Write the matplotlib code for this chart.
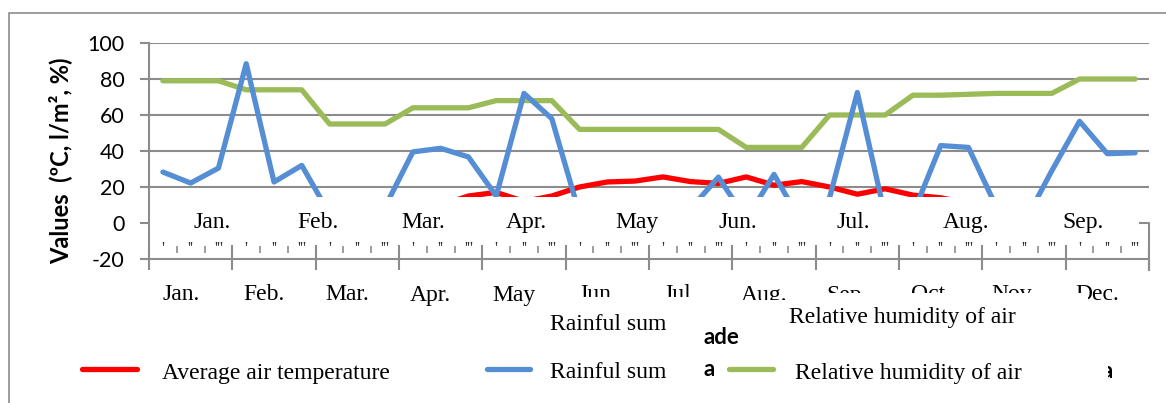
import numpy as np
import matplotlib
matplotlib.use('Agg')
import matplotlib.pyplot as plt
from matplotlib.lines import Line2D
from matplotlib.patches import Rectangle
from matplotlib import transforms

plt.rcParams['axes.unicode_minus'] = False

# values per decade (3 decades per month, Jan..Dec)
temperature = [-3, -4, -2, -1, -2, 0, 2, 4, 5, 8, 10, 15,
               17, 12, 15, 20, 22.8, 23.3, 25.6, 23, 22, 25.6, 21, 23,
               20, 16, 19, 15.5, 14, 11, 9, 7, 5, 3, 1, 0]
rainfall = [28.3, 22.2, 30.5, 88.5, 22.8, 32, 5, 3, 9, 39.5, 41.5, 36.7,
            15, 72, 58, 5, 2, 6, 4, 8, 25.5, 2, 27, 0,
            14, 72.5, 4, 5, 43, 42, 9, 0, 29, 56.5, 38.5, 39]
humidity = [79, 79, 79, 74, 74, 74, 55, 55, 55, 64, 64, 64,
            68, 68, 68, 52, 52, 52, 52, 52, 52, 42, 42, 42,
            60, 60, 60, 71, 71, 71.5, 72, 72, 72, 80, 80, 80]

months = ['Jan.', 'Feb.', 'Mar.', 'Apr.', 'May', 'Jun.', 'Jul.', 'Aug.',
          'Sep.', 'Oct.', 'Nov.', 'Dec.']
upper_months = ['Jan.', 'Feb.', 'Mar.', 'Apr.', 'May', 'Jun.', 'Jul.', 'Aug.', 'Sep.']
upper_month_x = [2.27, 6.08, 9.86, 13.6, 17.57, 21.2, 25.34, 29.41, 33.62]
decade_marks = ["'", "''", "'''"]

W, H = 1166, 403
def fx(x):
    return x / W
def fy(y):
    return 1 - y / H

serif = 'Liberation Serif'
sans = ['Lato', 'DejaVu Sans']
grey = '#8c8c8c'
red, blue, green = '#FF0000', '#558ED5', '#9BBB59'

fig = plt.figure(figsize=(W / 100, H / 100), dpi=100)
ax = fig.add_axes([fx(149), fy(259), 1000 / W, 216 / H])

x = np.arange(len(rainfall)) + 0.5
style = dict(lw=3.8, solid_joinstyle='round', solid_capstyle='round', zorder=2)
ax.plot(x, temperature, color=red, **style)
ax.plot(x, humidity, color=green, **style)
ax.plot(x, rainfall, color=blue, **style)

ax.set_xlim(0, 36)
ax.set_ylim(-20, 100)
ax.set_yticks(range(-20, 101, 20))
ax.yaxis.grid(True, color=grey, lw=1.5)
ax.set_axisbelow(True)
for s in ['top', 'right']:
    ax.spines[s].set_visible(False)
for s in ['left', 'bottom']:
    ax.spines[s].set_color(grey)
    ax.spines[s].set_linewidth(1.5)
ax.tick_params(axis='y', length=6.5, width=1.5, color=grey, pad=11, labelsize=15.5)
for lab in ax.get_yticklabels():
    lab.set_family(sans)
ax.set_xticks(np.arange(0, 37, 3))
ax.set_xticklabels([])
ax.tick_params(axis='x', length=8, width=1.5, color=grey)

# white overlay hiding the lower part of the plot
ax.add_patch(Rectangle((0, -19.4), 36, 33.8, fc='white', ec='none', zorder=2.3))
ax.vlines(np.arange(0, 37, 3), -20, -12.2, color=grey, lw=1.5, zorder=3)
minor = [i for i in range(1, 36) if i % 3]
ax.vlines(minor, -16.7, -12.8, color=grey, lw=1.2, zorder=3)
for i in range(36):
    ax.text(i + 0.5, -14.2, decade_marks[i % 3], ha='center', va='center',
            fontsize=12, family=serif, color='#303030', zorder=4)
for lab, xm in zip(upper_months, upper_month_x):
    ax.text(xm, 0, lab, ha='center', va='center', fontsize=17, family=serif, zorder=4)

# bracket at right end
fig.add_artist(Line2D([fx(1140), fx(1149), fx(1149)], [fy(223), fy(223), fy(270)],
                      color=grey, lw=1.5))

# month labels under the axis
trans = transforms.blended_transform_factory(ax.transData, fig.transFigure)
for m, lab in enumerate(months):
    ax.text(3 * m + 1.14, fy(295), lab, transform=trans, ha='center', va='center',
            fontsize=17, family=serif, clip_on=False)

# outer frame
fig.add_artist(Line2D([fx(9), fx(9), 1], [0, fy(13), fy(13)], color=grey, lw=1.2))

# boxes covering part of the month labels
for x0, x1, y0 in [(560, 735, 297), (735, 790, 299.5), (790, 1088, 293)]:
    fig.add_artist(Rectangle((fx(x0), fy(315)), (x1 - x0) / W, (315 - y0) / H,
                             transform=fig.transFigure, fc='white', ec='none', zorder=5))

fig.text(fx(550), fy(324), 'Rainful sum', ha='left', va='center', fontsize=17,
         family=serif, zorder=6)
fig.text(fx(789), fy(318), 'Relative humidity of air', ha='left', va='center',
         fontsize=17, family=serif, zorder=6)
fig.text(fx(703), fy(337), 'ade', ha='left', va='center', fontsize=16,
         family=sans, weight='bold', zorder=6)

# legend row
for c, x0, x1 in [(red, 82, 137), (blue, 487, 530), (green, 729, 773)]:
    fig.add_artist(Line2D([fx(x0), fx(x1)], [fy(369), fy(369)], color=c, lw=3.8,
                          solid_capstyle='round', zorder=6))
fig.text(fx(162), fy(373), 'Average air temperature', ha='left', va='center',
         fontsize=17, family=serif, zorder=6)
fig.text(fx(550), fy(373), 'Rainful sum', ha='left', va='center', fontsize=17,
         family=serif, zorder=6)
fig.text(fx(795), fy(373), 'Relative humidity of air', ha='left', va='center',
         fontsize=17, family=serif, zorder=6)
fig.text(fx(704), fy(370), 'a', ha='left', va='center', fontsize=16,
         family=sans, weight='bold', zorder=6)
fig.text(fx(1101), fy(371), 'a', ha='left', va='center', fontsize=16,
         family=sans, weight='bold', zorder=6)
fig.add_artist(Rectangle((fx(1098), fy(385)), 10 / W, 25 / H, transform=fig.transFigure,
                         fc='white', ec='none', zorder=7))

fig.text(fx(60), fy(161), 'Values  (ºC, l/m², %)', rotation=90, ha='center',
         va='center', fontsize=17, family=sans, weight='bold')

fig.savefig('out.png', dpi=100)
